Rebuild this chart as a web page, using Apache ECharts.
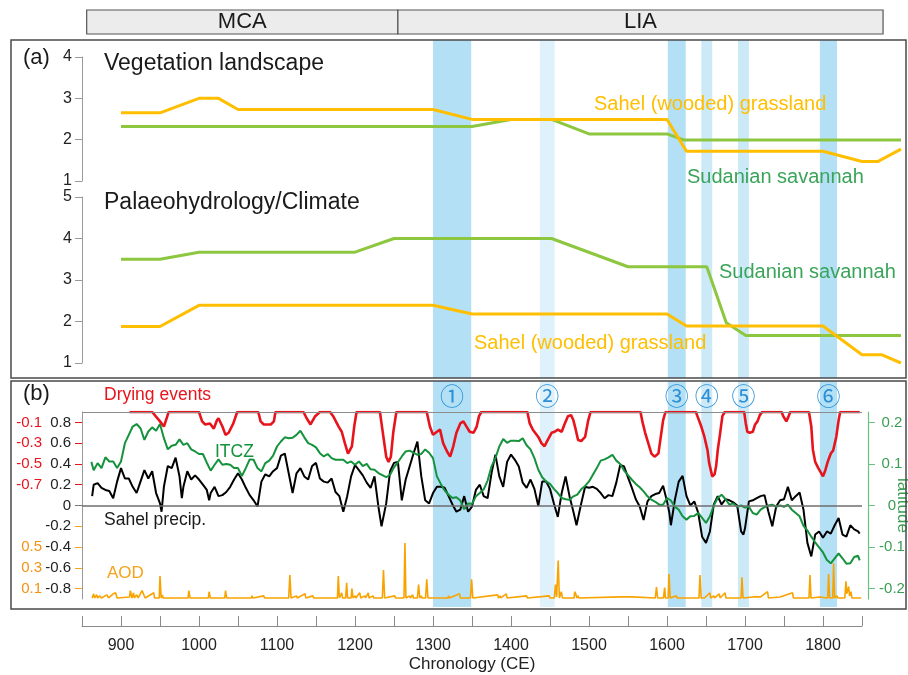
<!DOCTYPE html>
<html><head><meta charset="utf-8">
<script src="https://cdn.jsdelivr.net/npm/echarts@6/dist/echarts.min.js"></script>
<style>html,body{margin:0;padding:0;background:#fff}#c{width:908px;height:675px}</style>
</head><body><div id="c"></div>
<script>
// ---------------- DATA ----------------
const periodNames = ['MCA', 'LIA'];
const periodStart = [856, 1255];
const periodEnd = [1255, 1877];

const bandStarts = [1300, 1437, 1601, 1644, 1691, 1796];
const bandEnds = [1349, 1456, 1624, 1658, 1705, 1818];
const bandLabels = ['①', '②', '③', '④', '⑤', '⑥'];

// Panel (a): vegetation landscape
const vegSahel = [[900,2.65],[950,2.65],[1000,3.0],[1025,3.0],[1050,2.73],[1300,2.73],[1350,2.49],[1600,2.49],[1625,1.72],[1800,1.72],[1850,1.47],[1870,1.47],[1900,1.77]];
const vegSudan = [[900,2.32],[1350,2.32],[1400,2.49],[1452,2.49],[1500,2.14],[1600,2.14],[1622,1.99],[1900,1.99]];
// Panel (a): palaeohydrology / climate
const hydroSudan = [[900,3.5],[950,3.5],[1000,3.67],[1200,3.67],[1250,4.0],[1452,4.0],[1550,3.32],[1651,3.32],[1676,1.97],[1701,1.66],[1900,1.66]];
const hydroSahel = [[900,1.88],[950,1.88],[1000,2.39],[1300,2.39],[1350,2.18],[1600,2.18],[1625,1.89],[1800,1.89],[1850,1.2],[1875,1.2],[1900,1.0]];

// Panel (b): Sahel precipitation
const sahelPrecip = [[863,0.09],[865,0.20],[870,0.215],[875,0.17],[880,0.15],[885,0.14],[890,0.07],[895,0.23],[900,0.36],[905,0.26],[910,0.26],[915,0.18],[920,0.12],[925,0.23],[930,0.34],[935,0.26],[940,0.33],[945,0.12],[950,0.02],[952,-0.06],[955,0.18],[960,0.38],[965,0.36],[970,0.46],[975,0.28],[978,0.07],[980,0.18],[985,0.33],[990,0.25],[995,0.29],[1000,0.25],[1005,0.20],[1010,0.15],[1013,0.05],[1015,0.12],[1020,0.18],[1025,0.09],[1030,0.10],[1035,0.13],[1040,0.18],[1045,0.25],[1050,0.31],[1055,0.25],[1060,0.17],[1065,0.10],[1070,0.05],[1075,-0.01],[1080,0.23],[1085,0.30],[1090,0.28],[1095,0.33],[1100,0.36],[1105,0.48],[1110,0.50],[1115,0.31],[1120,0.12],[1125,0.31],[1130,0.36],[1135,0.28],[1140,0.25],[1145,0.38],[1150,0.41],[1155,0.26],[1160,0.23],[1165,0.22],[1170,0.26],[1175,0.13],[1180,0.09],[1185,-0.06],[1190,0.09],[1195,0.28],[1200,0.39],[1205,0.34],[1210,0.29],[1215,0.22],[1220,0.17],[1225,0.28],[1230,-0.01],[1234,-0.20],[1240,0.02],[1245,0.33],[1250,0.41],[1255,0.42],[1260,0.05],[1265,0.25],[1270,0.375],[1275,0.50],[1280,0.615],[1285,0.28],[1290,0.05],[1295,0.02],[1300,0.12],[1305,0.18],[1310,0.18],[1315,0.17],[1320,0.09],[1325,0.01],[1330,-0.06],[1335,-0.04],[1340,0.09],[1345,-0.06],[1350,-0.01],[1355,0.15],[1360,0.20],[1365,0.09],[1370,0.07],[1375,0.31],[1380,0.49],[1385,0.28],[1390,0.18],[1395,0.42],[1400,0.49],[1405,0.44],[1410,0.375],[1415,0.22],[1420,0.17],[1425,0.25],[1430,0.16],[1435,-0.005],[1440,0.23],[1445,0.23],[1450,0.16],[1455,0.02],[1460,-0.11],[1465,0.12],[1470,0.28],[1475,0.09],[1480,-0.06],[1484,-0.19],[1490,0.02],[1495,0.18],[1500,0.17],[1505,0.18],[1510,0.16],[1515,0.12],[1520,0.07],[1525,0.10],[1530,0.09],[1535,0.22],[1540,0.39],[1545,0.375],[1550,0.27],[1555,0.17],[1560,0.06],[1565,-0.01],[1570,-0.14],[1575,0.04],[1580,0.09],[1585,0.11],[1590,0.12],[1595,0.19],[1600,0.04],[1603,-0.07],[1605,-0.19],[1610,0.05],[1615,0.23],[1620,0.285],[1625,0.09],[1630,0.00],[1635,0.04],[1640,-0.07],[1645,-0.30],[1650,-0.36],[1655,-0.25],[1660,0.01],[1665,0.09],[1670,0.01],[1675,0.06],[1680,0.05],[1685,0.03],[1690,0.00],[1695,-0.25],[1698,-0.28],[1700,-0.22],[1705,0.04],[1710,0.05],[1715,0.07],[1720,0.09],[1725,0.10],[1730,-0.06],[1735,-0.20],[1740,-0.01],[1745,0.05],[1750,0.06],[1755,0.18],[1760,0.05],[1765,0.09],[1770,0.125],[1775,-0.04],[1780,-0.36],[1785,-0.49],[1790,-0.28],[1795,-0.25],[1800,-0.31],[1805,-0.25],[1810,-0.27],[1815,-0.19],[1820,-0.12],[1825,-0.28],[1830,-0.30],[1835,-0.19],[1840,-0.23],[1845,-0.25],[1847,-0.27]];

// Panel (b): ITCZ latitude
const itczLat = [[862,0.105],[865,0.085],[870,0.102],[875,0.090],[880,0.116],[885,0.106],[890,0.106],[895,0.090],[900,0.106],[905,0.150],[910,0.170],[915,0.19],[920,0.196],[925,0.186],[930,0.158],[935,0.178],[940,0.188],[945,0.18],[950,0.196],[955,0.162],[960,0.135],[965,0.144],[970,0.146],[975,0.159],[980,0.146],[985,0.150],[990,0.135],[995,0.130],[1000,0.124],[1005,0.124],[1010,0.103],[1015,0.084],[1020,0.098],[1025,0.111],[1030,0.098],[1035,0.1],[1040,0.098],[1045,0.090],[1050,0.090],[1055,0.071],[1060,0.090],[1065,0.111],[1070,0.110],[1075,0.090],[1080,0.082],[1085,0.102],[1090,0.108],[1095,0.120],[1100,0.142],[1105,0.154],[1110,0.164],[1115,0.162],[1120,0.163],[1125,0.170],[1130,0.18],[1135,0.164],[1140,0.150],[1145,0.146],[1150,0.140],[1155,0.126],[1160,0.118],[1165,0.124],[1170,0.114],[1175,0.110],[1180,0.110],[1185,0.110],[1190,0.102],[1195,0.106],[1200,0.098],[1205,0.106],[1210,0.095],[1215,0.1],[1220,0.087],[1225,0.086],[1230,0.078],[1235,0.073],[1240,0.068],[1245,0.074],[1250,0.092],[1255,0.104],[1260,0.118],[1265,0.130],[1270,0.132],[1275,0.127],[1280,0.122],[1285,0.124],[1290,0.135],[1295,0.127],[1300,0.114],[1305,0.070],[1310,0.052],[1315,0.036],[1320,0.026],[1325,0.018],[1330,0.020],[1335,0.012],[1340,-0.009],[1345,0.005],[1350,0.004],[1355,0.022],[1360,0.030],[1365,0.039],[1370,0.060],[1375,0.094],[1380,0.114],[1385,0.142],[1390,0.160],[1395,0.151],[1400,0.156],[1405,0.156],[1410,0.155],[1415,0.162],[1420,0.145],[1425,0.135],[1430,0.114],[1435,0.086],[1440,0.068],[1445,0.058],[1450,0.052],[1455,0.040],[1460,0.030],[1465,0.018],[1470,0.015],[1475,0.014],[1480,0.022],[1485,0.026],[1490,0.039],[1495,0.047],[1500,0.058],[1505,0.074],[1510,0.090],[1515,0.108],[1520,0.111],[1525,0.116],[1530,0.122],[1535,0.108],[1540,0.100],[1545,0.084],[1550,0.073],[1555,0.062],[1560,0.052],[1565,0.044],[1570,0.034],[1575,0.022],[1580,0.014],[1585,0.009],[1590,0.002],[1595,0.002],[1600,0.018],[1605,0.012],[1610,-0.003],[1615,-0.010],[1620,-0.026],[1625,-0.034],[1630,-0.026],[1635,-0.025],[1640,-0.018],[1645,-0.030],[1650,-0.042],[1655,-0.026],[1660,0.0],[1665,0.018],[1670,0.026],[1675,0.015],[1680,0.002],[1685,0.005],[1690,-0.003],[1695,0.0],[1700,-0.005],[1705,-0.003],[1710,-0.018],[1715,-0.022],[1720,-0.010],[1725,-0.004],[1730,0.0],[1735,0.002],[1740,-0.003],[1745,0.0],[1750,-0.003],[1755,0.002],[1760,-0.01],[1765,-0.018],[1770,-0.026],[1775,-0.049],[1780,-0.06],[1785,-0.075],[1790,-0.089],[1795,-0.101],[1800,-0.113],[1805,-0.131],[1810,-0.139],[1815,-0.127],[1820,-0.115],[1825,-0.127],[1830,-0.140],[1835,-0.139],[1840,-0.124],[1845,-0.121],[1847,-0.132]];

// Panel (b): drying events
const dryingEvents = [[911,0],[940,0],[950,-0.09],[955,-0.14],[959,-0.05],[961,0],[1000,0],[1004,-0.09],[1008,-0.12],[1014,-0.11],[1019,-0.16],[1023,-0.08],[1025,-0.06],[1030,-0.14],[1034,-0.22],[1038,-0.20],[1044,-0.11],[1049,0],[1076,0],[1079,-0.09],[1083,-0.12],[1092,-0.12],[1096,-0.09],[1098,0],
[1134,0],[1138,-0.06],[1143,-0.12],[1149,-0.04],[1155,0],[1168,0],[1172,-0.04],[1179,-0.14],[1183,-0.19],[1187,-0.30],[1191,-0.40],[1196,-0.33],[1199,-0.14],[1202,0],[1232,0],[1234,-0.11],[1237,-0.27],[1240,-0.43],[1243,-0.48],[1246,-0.43],[1249,-0.2],[1253,0],[1292,0],[1296,-0.14],[1300,-0.22],[1305,-0.19],[1309,-0.17],[1313,-0.30],[1318,-0.38],[1322,-0.43],[1326,-0.33],[1330,-0.20],[1335,-0.11],[1339,-0.09],[1343,-0.14],[1347,-0.19],[1352,-0.2],[1356,-0.14],[1359,-0.04],[1362,0],
[1421,0],[1424,-0.11],[1428,-0.17],[1435,-0.24],[1439,-0.30],[1443,-0.33],[1447,-0.27],[1452,-0.20],[1456,-0.19],[1460,-0.17],[1465,-0.19],[1469,-0.11],[1473,-0.04],[1477,-0.03],[1480,-0.08],[1483,-0.17],[1486,-0.27],[1490,-0.28],[1495,-0.24],[1499,-0.08],[1502,0],[1566,0],[1569,-0.11],[1572,-0.20],[1576,-0.30],[1580,-0.40],[1584,-0.43],[1589,-0.40],[1592,-0.24],[1595,-0.08],[1598,0],
[1637,0],[1639,-0.04],[1644,-0.14],[1648,-0.24],[1652,-0.37],[1654,-0.49],[1658,-0.62],[1661,-0.60],[1663,-0.52],[1665,-0.37],[1668,-0.21],[1671,-0.04],[1674,0],[1699,0],[1701,-0.11],[1703,-0.19],[1706,-0.2],[1710,-0.19],[1713,-0.12],[1716,-0.09],[1719,-0.03],[1722,0],[1747,0],[1749,-0.04],[1753,-0.09],[1756,-0.04],[1758,0],[1782,0],[1785,-0.14],[1787,-0.36],[1790,-0.48],[1794,-0.54],[1800,-0.62],[1803,-0.56],[1806,-0.48],[1810,-0.40],[1813,-0.37],[1817,-0.24],[1820,-0.08],[1822,0],[1847,0]];

// Panel (b): aerosol optical depth
const aod = [[863,0.01],[865,0.05],[866,0.01],[869,0.04],[870,0.01],[873,0.03],[875,0.01],[882,0.04],[884,0.01],[890,0.05],[893,0.06],[895,0.01],[911,0.02],[912,0.08],[914,0.01],[916,0.06],[917,0.01],[920,0.04],[922,0.01],[927,0.08],[929,0.07],[931,0.01],[942,0.06],[943,0.01],[949,0.01],[950,0.22],[951.5,0.01],[953,0.04],[954,0.01],[986,0.01],[987,0.08],[988.5,0.01],[1012,0.01],[1013,0.07],[1014.5,0.01],[1033,0.01],[1034,0.08],[1035.5,0.01],[1067,0.01],[1068,0.03],[1069,0.01],[1083,0.03],[1084,0.01],[1115,0.01],[1116.5,0.23],[1118,0.01],[1125,0.03],[1126,0.01],[1136,0.05],[1137,0.01],[1146,0.03],[1147,0.01],[1177.5,0.01],[1178.6,0.22],[1180,0.01],[1183,0.06],[1184,0.01],[1188,0.01],[1189.3,0.155],[1190.5,0.01],[1195,0.01],[1196,0.1],[1197.5,0.01],[1200,0.03],[1201,0.01],[1206,0.06],[1207.5,0.01],[1212.5,0.03],[1213.5,0.01],[1217,0.06],[1218,0.01],[1223,0.03],[1224,0.01],[1235,0.01],[1236.5,0.28],[1238,0.01],[1251,0.03],[1252,0.01],[1262.8,0.01],[1264,0.54],[1265.3,0.01],[1270,0.03],[1271,0.01],[1274,0.04],[1275,0.01],[1280,0.01],[1281.5,0.14],[1283,0.01],[1285,0.03],[1286,0.01],[1290.5,0.01],[1292,0.19],[1293.5,0.01],[1319,0.01],[1320,0.03],[1321,0.01],[1334,0.05],[1335,0.01],[1348,0.01],[1349.5,0.19],[1351,0.01],[1383,0.04],[1384,0.01],[1386,0.03],[1387,0.01],[1394,0.05],[1395,0.01],[1420,0.03],[1421,0.01],[1449,0.03],[1450,0.01],[1455.5,0.01],[1457,0.14],[1458.5,0.02],[1460.5,0.37],[1462,0.01],[1464.5,0.07],[1466,0.01],[1481,0.01],[1481.6,0.07],[1483,0.05],[1484.5,0.01],[1486,0.03],[1487,0.01],[1540,0.02],[1541,0.01],[1555,0.02],[1556,0.01],[1585,0.01],[1586.5,0.115],[1588,0.01],[1595.5,0.01],[1597,0.11],[1598,0.01],[1601.5,0.01],[1602.6,0.24],[1604,0.01],[1612,0.03],[1613,0.01],[1641,0.01],[1642.3,0.23],[1643.8,0.01],[1648,0.01],[1655,0.06],[1656,0.01],[1660,0.03],[1661,0.01],[1667,0.05],[1668,0.01],[1674.5,0.06],[1675.5,0.01],[1695,0.01],[1696.1,0.21],[1697.5,0.01],[1710,0.02],[1711,0.01],[1720,0.02],[1721,0.01],[1729,0.07],[1730,0.01],[1745,0.02],[1746,0.01],[1761,0.06],[1762,0.01],[1782,0.01],[1783.3,0.23],[1784.6,0.01],[1796,0.02],[1797,0.01],[1806,0.01],[1807.2,0.24],[1808.5,0.01],[1812.5,0.01],[1813.6,0.345],[1815,0.01],[1818,0.03],[1819,0.01],[1828,0.01],[1829.4,0.17],[1830.5,0.05],[1832.9,0.12],[1834,0.03],[1835.9,0.07],[1837,0.01],[1849,0.01]];

// Tick labels
const vegTicks = [1, 2, 3, 4];
const hydroTicks = [1, 2, 3, 4, 5];
const precipTicks = [-0.8, -0.6, -0.4, -0.2, 0, 0.2, 0.4, 0.6, 0.8];
const dryTicks = [-0.7, -0.5, -0.3, -0.1];
const aodTicks = [0.1, 0.3, 0.5];
const aodTickMarks = [0.1, 0.3, 0.5, 0.7];
const latTicks = [-0.2, -0.1, 0, 0.1, 0.2];
const yearTicks = [900, 1000, 1100, 1200, 1300, 1400, 1500, 1600, 1700, 1800];

// ---------------- CHART ----------------
const FONT = '"Liberation Sans", Arial, sans-serif';
const bandFill = ['#b3e0f5', '#dff1fb', '#b3e0f5', '#cce9f8', '#cce9f8', '#b3e0f5'];
const chart = echarts.init(document.getElementById('c'), null, { renderer: 'canvas' });

const L = 82;
const grids = [
  { left: L, width: 819, top: 10, height: 24 },   // 0 header
  { left: L, width: 819, top: 40, height: 338 },  // 1 bands (a)
  { left: L, width: 819, top: 57, height: 124 },  // 2 vegetation
  { left: L, width: 819, top: 197, height: 166 }, // 3 hydro
  { left: L, width: 780, top: 381, height: 226 }, // 4 bands (b)
  { left: L, width: 780, top: 412, height: 187 }, // 5 panel b
  { left: L, width: 780, top: 600, height: 26 }   // 6 bottom axis
].map(g => Object.assign(g, { containLabel: false, outerBoundsMode: 'none' }));
const xMax = [1900, 1900, 1900, 1900, 1850, 1850, 1850];
const xAxes = grids.map((g, i) => ({
  gridIndex: i, type: 'value', min: 850, max: xMax[i], show: false
}));
xAxes[6] = {
  gridIndex: 6, type: 'value', min: 850, max: 1850, interval: 50, position: 'bottom',
  axisLine: { show: true, lineStyle: { color: '#8a8a8a', width: 1 } },
  axisTick: { show: true, inside: true, length: 10, lineStyle: { color: '#8a8a8a' } },
  splitLine: { show: false },
  axisLabel: { customValues: yearTicks, formatter: v => String(v), margin: 12, fontSize: 16, color: '#222', fontFamily: FONT },
  name: 'Chronology (CE)', nameLocation: 'middle', nameGap: 30,
  nameTextStyle: { fontSize: 17, color: '#222', fontFamily: FONT }
};

const grayAxis = { show: true, lineStyle: { color: '#9a9a9a', width: 1 } };
const hidden = (gi) => ({ gridIndex: gi, type: 'value', min: 0, max: 1, show: false });

const yAxes = [
  hidden(0), hidden(1),
  { gridIndex: 2, type: 'value', min: 1, max: 4, interval: 1, axisLine: grayAxis,
    axisTick: { show: true, length: 7, lineStyle: { color: '#9a9a9a' }, customValues: vegTicks },
    axisLabel: { customValues: vegTicks, margin: 10, fontSize: 16, color: '#222', fontFamily: FONT },
    splitLine: { show: false } },
  { gridIndex: 3, type: 'value', min: 1, max: 5, interval: 1, axisLine: grayAxis,
    axisTick: { show: true, length: 7, lineStyle: { color: '#9a9a9a' }, customValues: hydroTicks },
    axisLabel: { customValues: hydroTicks, margin: 10, fontSize: 16, color: '#222', fontFamily: FONT },
    splitLine: { show: false } },
  hidden(4),
  // 5 black precip axis
  { gridIndex: 5, type: 'value', min: -0.9, max: 0.9, position: 'left', axisLine: grayAxis,
    axisTick: { show: true, length: 7, lineStyle: { color: '#777' }, customValues: [0] },
    axisLabel: { customValues: precipTicks, margin: 11, fontSize: 15, color: '#222', fontFamily: FONT },
    splitLine: { show: false } },
  // 6 red drying events axis
  { gridIndex: 5, type: 'value', min: -1.8, max: 0, position: 'left', axisLine: { show: false },
    axisTick: { show: true, length: 7, lineStyle: { color: '#e8141c' }, customValues: dryTicks },
    axisLabel: { customValues: dryTicks, margin: 40, fontSize: 15, color: '#e8141c', fontFamily: FONT },
    splitLine: { show: false } },
  // 7 AOD axis
  { gridIndex: 5, type: 'value', min: 0, max: 1.8, position: 'left', axisLine: { show: false },
    axisTick: { show: true, length: 7, lineStyle: { color: '#f7a21b' }, customValues: aodTickMarks },
    axisLabel: { customValues: aodTicks, margin: 40, fontSize: 15, color: '#f39212', fontFamily: FONT },
    splitLine: { show: false } },
  // 8 ITCZ latitude axis (right)
  { gridIndex: 5, type: 'value', min: -0.225, max: 0.225, position: 'right', offset: 6,
    axisLine: { show: true, lineStyle: { color: '#6cc07c', width: 1.2 } },
    axisTick: { show: true, length: 7, lineStyle: { color: '#6cc07c' }, customValues: latTicks },
    axisLabel: { customValues: latTicks, margin: 24, align: 'center', fontSize: 15, color: '#3a9f52', fontFamily: FONT },
    splitLine: { show: false },
    name: 'latitude', nameLocation: 'middle', nameRotate: -90, nameGap: 26, nameMoveOverlap: false,
    nameTextStyle: { fontSize: 17, color: '#3a9f52', fontFamily: FONT } },
  hidden(6)
];

function bandArea(withLabels) {
  return bandStarts.map((s, i) => [
    { xAxis: s, name: withLabels ? bandLabels[i] : '', itemStyle: { color: bandFill[i] } },
    { xAxis: bandEnds[i] }
  ]);
}

const lineBase = { type: 'line', showSymbol: false, symbol: 'none', silent: true, animation: false };

const series = [
  Object.assign({}, lineBase, { xAxisIndex: 0, yAxisIndex: 0, data: [],
    markArea: { silent: true,
      itemStyle: { color: '#ececec', borderColor: '#555', borderWidth: 1.2 },
      label: { show: true, position: 'inside', fontSize: 22, color: '#1a1a1a', fontFamily: FONT },
      data: periodNames.map((n, i) => [{ xAxis: periodStart[i], name: n }, { xAxis: periodEnd[i] }]) } }),
  Object.assign({}, lineBase, { xAxisIndex: 1, yAxisIndex: 1, data: [],
    markArea: { silent: true, label: { show: false }, data: bandArea(false) } }),
  Object.assign({}, lineBase, { xAxisIndex: 4, yAxisIndex: 4, data: [],
    markArea: { silent: true,
      label: { show: true, position: 'insideTop', distance: 3, fontSize: 24, color: '#2a8fd6',
        fontFamily: '"Noto Sans CJK JP", "DejaVu Sans", sans-serif' },
      data: bandArea(true) } }),
  Object.assign({}, lineBase, { name: 'veg Sahel', xAxisIndex: 2, yAxisIndex: 2, data: vegSahel,
    lineStyle: { color: '#ffbf00', width: 3 } }),
  Object.assign({}, lineBase, { name: 'veg Sudan', xAxisIndex: 2, yAxisIndex: 2, data: vegSudan,
    lineStyle: { color: '#8dc63f', width: 3 }, z: 1 }),
  Object.assign({}, lineBase, { name: 'hydro Sudan', xAxisIndex: 3, yAxisIndex: 3, data: hydroSudan,
    lineStyle: { color: '#8dc63f', width: 3 } }),
  Object.assign({}, lineBase, { name: 'hydro Sahel', xAxisIndex: 3, yAxisIndex: 3, data: hydroSahel,
    lineStyle: { color: '#ffbf00', width: 3 } }),
  Object.assign({}, lineBase, { xAxisIndex: 5, yAxisIndex: 5, data: [],
    markLine: { silent: true, symbol: ['none', 'none'], label: { show: false },
      data: [ { yAxis: 0.9, lineStyle: { color: '#8c8c8c', width: 1, type: 'solid' } },
              { yAxis: 0, lineStyle: { color: '#6e6e6e', width: 1.5, type: 'solid' } } ] } }),
  Object.assign({}, lineBase, { name: 'AOD', xAxisIndex: 5, yAxisIndex: 7, data: aod,
    lineStyle: { color: '#f9a300', width: 1.6 } }),
  Object.assign({}, lineBase, { name: 'Sahel precip', xAxisIndex: 5, yAxisIndex: 5, data: sahelPrecip,
    lineStyle: { color: '#000', width: 2 } }),
  Object.assign({}, lineBase, { name: 'ITCZ', xAxisIndex: 5, yAxisIndex: 8, data: itczLat,
    lineStyle: { color: '#14923c', width: 2 } }),
  Object.assign({}, lineBase, { name: 'Drying', xAxisIndex: 5, yAxisIndex: 6, data: dryingEvents,
    lineStyle: { color: '#e8141c', width: 2.6 } }),
  Object.assign({}, lineBase, { xAxisIndex: 6, yAxisIndex: 9, data: [] })
];

function txt(x, y, text, size, color, extra) {
  return Object.assign({ type: 'text', x: x, y: y, silent: true, z: 100,
    style: { text: text, fontSize: size, fontFamily: FONT, fill: color, verticalAlign: 'middle' } }, extra || {});
}

const graphic = [
  { type: 'rect', shape: { x: 11, y: 40, width: 895, height: 338 }, z: 50, silent: true,
    style: { fill: 'none', stroke: '#4a4a4a', lineWidth: 1.5 } },
  { type: 'rect', shape: { x: 11, y: 381, width: 895, height: 228 }, z: 50, silent: true,
    style: { fill: 'none', stroke: '#4a4a4a', lineWidth: 1.5 } },
  txt(23, 58, '(a)', 22, '#1a1a1a'),
  txt(104, 64, 'Vegetation landscape', 23, '#1a1a1a'),
  txt(104, 203, 'Palaeohydrology/Climate', 23, '#1a1a1a'),
  txt(594, 104, 'Sahel (wooded) grassland', 20, '#ffbf00'),
  txt(687, 177, 'Sudanian savannah', 20, '#3aa45a'),
  txt(719, 272, 'Sudanian savannah', 20, '#3aa45a'),
  txt(474, 343, 'Sahel (wooded) grassland', 20, '#ffbf00'),
  txt(23, 394, '(b)', 22, '#1a1a1a'),
  txt(104, 395, 'Drying events', 17.5, '#e8141c'),
  txt(215, 452, 'ITCZ', 17.5, '#14923c'),
  txt(104, 520, 'Sahel precip.', 17.5, '#1a1a1a'),
  txt(107, 573, 'AOD', 17, '#f7a21b')
];

chart.setOption({
  animation: false,
  backgroundColor: '#fff',
  grid: grids,
  xAxis: xAxes,
  yAxis: yAxes,
  series: series,
  graphic: graphic
});
</script></body></html>
